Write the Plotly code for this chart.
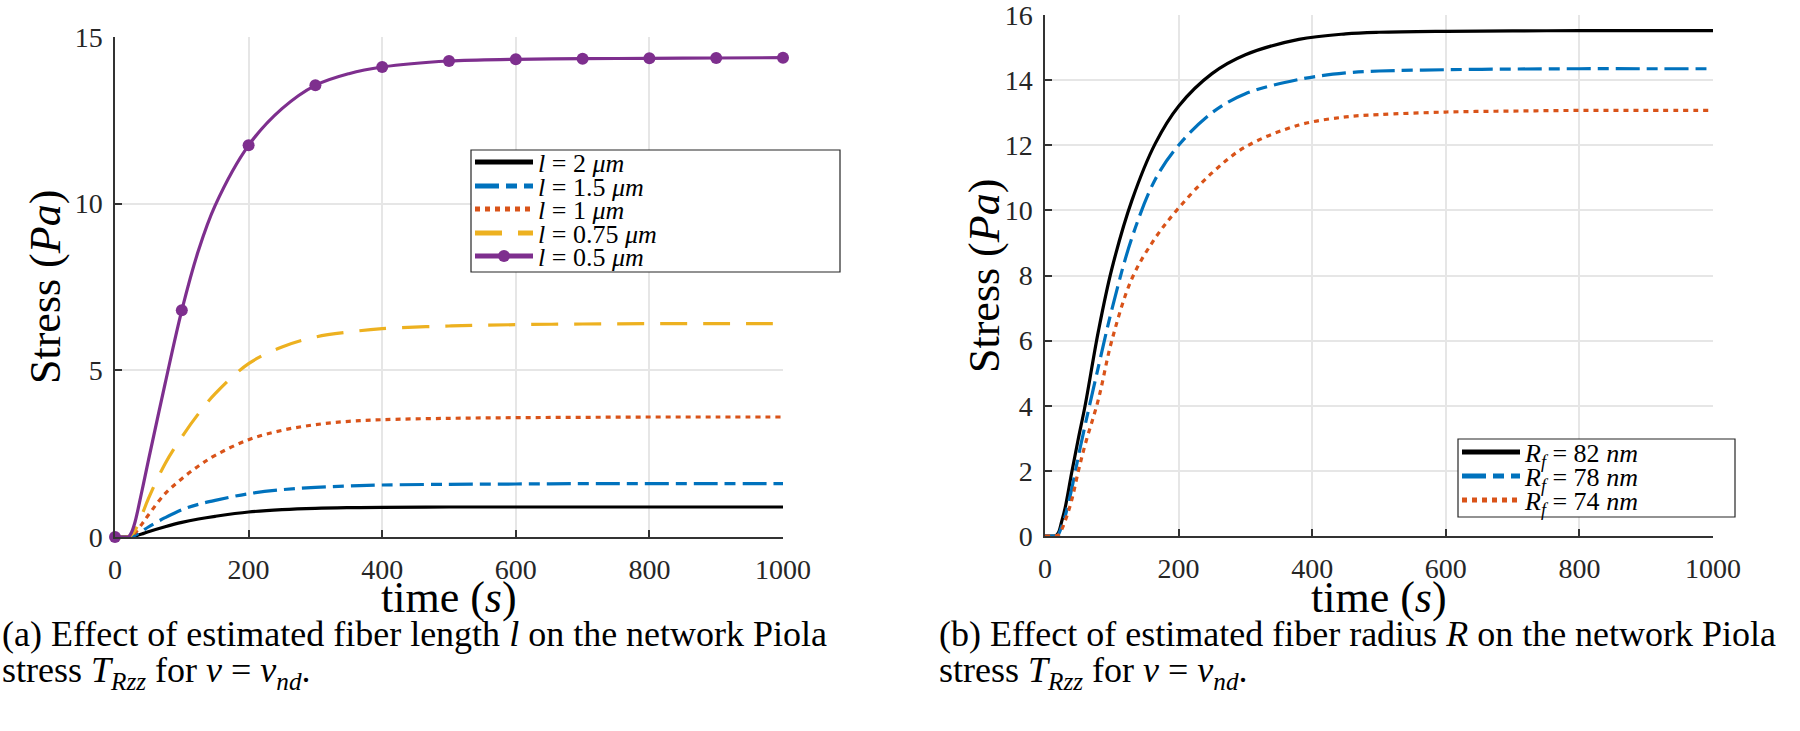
import plotly.graph_objects as go

# ---------------- data ----------------
time_a = [0, 10, 20, 25, 30, 40, 50, 75, 100, 125, 150, 200, 250, 300, 350, 400, 500, 600, 700, 800, 900, 1000]
stress_l2 = [0, 0, 0, 0.01, 0.03, 0.09, 0.16, 0.31, 0.44, 0.54, 0.62, 0.75, 0.82, 0.86, 0.88, 0.89, 0.9, 0.9, 0.9, 0.9, 0.9, 0.9]
stress_l15 = [0, 0, 0, 0.02, 0.05, 0.17, 0.3, 0.58, 0.82, 0.98, 1.1, 1.3, 1.42, 1.49, 1.53, 1.56, 1.58, 1.59, 1.6, 1.6, 1.6, 1.6]
stress_l1 = [0, 0, 0, 0.04, 0.12, 0.38, 0.66, 1.3, 1.75, 2.13, 2.45, 2.92, 3.2, 3.37, 3.47, 3.52, 3.56, 3.58, 3.59, 3.6, 3.6, 3.6]
stress_l075 = [0, 0, 0, 0.07, 0.2, 0.65, 1.15, 2.2, 3.0, 3.7, 4.3, 5.2, 5.7, 6.0, 6.15, 6.25, 6.33, 6.37, 6.39, 6.4, 6.4, 6.4]
stress_l05 = [0, 0, 0, 0.15, 0.45, 1.35, 2.3, 4.6, 6.8, 8.6, 9.95, 11.75, 12.85, 13.55, 13.9, 14.1, 14.28, 14.33, 14.35, 14.36, 14.37, 14.38]
marker_every = 100  # purple curve has a marker every 100 s

time_b = [0, 10, 15, 20, 25, 30, 40, 50, 60, 80, 100, 130, 165, 200, 250, 300, 380, 450, 500, 600, 700, 800, 900, 1000]
stress_r82 = [0, 0, 0, 0.1, 0.45, 0.85, 1.95, 3.0, 4.0, 6.3, 8.2, 10.3, 12.05, 13.2, 14.2, 14.78, 15.25, 15.42, 15.47, 15.5, 15.51, 15.52, 15.52, 15.52]
stress_r78 = [0, 0, 0, 0.05, 0.3, 0.6, 1.45, 2.45, 3.4, 5.2, 6.95, 9.15, 10.95, 12.0, 13.0, 13.58, 14.02, 14.22, 14.28, 14.32, 14.34, 14.35, 14.35, 14.35]
stress_r74 = [0, 0, 0, 0.03, 0.2, 0.45, 1.1, 2.0, 2.8, 4.2, 6.0, 7.9, 9.15, 10.07, 11.15, 11.95, 12.62, 12.87, 12.94, 13.02, 13.05, 13.07, 13.07, 13.07]

labels_a = ["<i>l</i> = 2 <i>μm</i>", "<i>l</i> = 1.5 <i>μm</i>", "<i>l</i> = 1 <i>μm</i>",
            "<i>l</i> = 0.75 <i>μm</i>", "<i>l</i> = 0.5 <i>μm</i>"]
labels_b = ["<i>R</i><sub><i>f</i></sub> = 82 <i>nm</i>", "<i>R</i><sub><i>f</i></sub> = 78 <i>nm</i>",
            "<i>R</i><sub><i>f</i></sub> = 74 <i>nm</i>"]
x_ticks = [0, 200, 400, 600, 800, 1000]
y_ticks_a = [0, 5, 10, 15]
y_ticks_b = [0, 2, 4, 6, 8, 10, 12, 14, 16]

# ---------------- styling ----------------
W, H = 1800, 731
FONT = "Liberation Serif"
BLACK, BLUE, ORANGE, YELLOW, PURPLE = "#000000", "#0072BD", "#D95319", "#EDB120", "#7E2F8E"
LW = 3.2
DASHDOT = "24px,7px,11px,7px"
DOT = "5px,5px"
DASH = "27px,16px"
SMOOTH = 1.0


def px(xp):
    return xp / W


def py(yp):
    return 1 - yp / H


fig = go.Figure()

legend_ids = ["legend", "legend2", "legend3", "legend4", "legend5", "legend6", "legend7", "legend8"]
left_series = [
    (stress_l2, labels_a[0], BLACK, "solid"),
    (stress_l15, labels_a[1], BLUE, DASHDOT),
    (stress_l1, labels_a[2], ORANGE, DOT),
    (stress_l075, labels_a[3], YELLOW, DASH),
]
for i, (ys, name, col, dash) in enumerate(left_series):
    fig.add_trace(go.Scatter(x=time_a, y=ys, name=name, mode="lines", showlegend=True,
                             line=dict(color=col, width=LW, dash=dash, shape="spline", smoothing=SMOOTH),
                             xaxis="x", yaxis="y", legend=legend_ids[i], cliponaxis=False))

msize = [12 if t % marker_every == 0 else 0 for t in time_a]
fig.add_trace(go.Scatter(x=time_a, y=stress_l05, name=labels_a[4], mode="lines+markers", showlegend=True,
                         line=dict(color=PURPLE, width=LW, shape="spline", smoothing=SMOOTH),
                         marker=dict(color=PURPLE, size=msize, opacity=1, line=dict(width=0)),
                         xaxis="x", yaxis="y", legend="legend5", cliponaxis=False))

right_series = [
    (stress_r82, labels_b[0], BLACK, "solid"),
    (stress_r78, labels_b[1], BLUE, DASHDOT),
    (stress_r74, labels_b[2], ORANGE, DOT),
]
for i, (ys, name, col, dash) in enumerate(right_series):
    fig.add_trace(go.Scatter(x=time_b, y=ys, name=name, mode="lines", showlegend=True,
                             line=dict(color=col, width=LW, dash=dash, shape="spline", smoothing=SMOOTH),
                             xaxis="x2", yaxis="y2", legend=legend_ids[5 + i], cliponaxis=False))

axis_common = dict(
    showline=True, linecolor="#333333", linewidth=1.5, mirror=False, automargin=False,
    ticks="inside", ticklen=7, tickwidth=1.5, tickcolor="#333333", ticklabeloverflow="allow",
    showgrid=True, gridcolor="#e6e6e6", gridwidth=1.5, zeroline=False,
    tickfont=dict(family=FONT, size=28, color="#262626"),
)

fig.update_layout(
    width=W, height=H, autosize=False, showlegend=True,
    margin=dict(l=0, r=0, t=0, b=0, pad=0, autoexpand=False),
    paper_bgcolor="white", plot_bgcolor="white",
    xaxis=dict(domain=[px(115), px(783)], range=[0, 1000], tickvals=x_ticks, anchor="y",
               ticklabelstandoff=7, **axis_common),
    yaxis=dict(domain=[py(537), py(37)], range=[0, 15], tickvals=y_ticks_a, anchor="x",
               ticklabelstandoff=5, **axis_common),
    xaxis2=dict(domain=[px(1045), px(1713)], range=[0, 1000], tickvals=x_ticks, anchor="y2",
                ticklabelstandoff=7, **axis_common),
    yaxis2=dict(domain=[py(536), py(15)], range=[0, 16], tickvals=y_ticks_b, anchor="x2",
                ticklabelstandoff=5, **axis_common),
)

# legend boxes
fig.add_shape(type="rect", xref="paper", yref="paper", x0=px(471), x1=px(840), y0=py(272), y1=py(150),
              line=dict(color="#262626", width=1.2), fillcolor="white", layer="above")
fig.add_shape(type="rect", xref="paper", yref="paper", x0=px(1458), x1=px(1735), y0=py(517), y1=py(439),
              line=dict(color="#262626", width=1.2), fillcolor="white", layer="above")

leg_common = dict(bgcolor="rgba(0,0,0,0)", borderwidth=0, itemwidth=58, itemsizing="constant",
                  font=dict(family=FONT, size=26, color="#000000"), xanchor="left", yanchor="middle")
rows_a = [164, 188, 211, 235, 258]
rows_b = [454, 478, 502]
SHIFT = -2
layout_leg = {}
for i, yc in enumerate(rows_a):
    layout_leg[legend_ids[i]] = dict(x=px(470), y=py(yc + SHIFT), **leg_common)
for i, yc in enumerate(rows_b):
    layout_leg[legend_ids[5 + i]] = dict(x=px(1457), y=py(yc + SHIFT), **leg_common)
fig.update_layout(**layout_leg)

ann = []
for xc in (449, 1379):
    ann.append(dict(text="time (<i>s</i>)", x=px(xc), y=py(597), xref="paper", yref="paper",
                    xanchor="center", yanchor="middle", showarrow=False,
                    font=dict(family=FONT, size=44, color="#000000")))
ann.append(dict(text="Stress (<i>Pa</i>)", x=px(46), y=py(287), xref="paper", yref="paper",
                xanchor="center", yanchor="middle", showarrow=False, textangle=-90,
                font=dict(family=FONT, size=44, color="#000000")))
ann.append(dict(text="Stress (<i>Pa</i>)", x=px(985), y=py(276), xref="paper", yref="paper",
                xanchor="center", yanchor="middle", showarrow=False, textangle=-90,
                font=dict(family=FONT, size=44, color="#000000")))
cap_a = "(a) Effect of estimated fiber length <i>l</i> on the network Piola"
cap_b = "(b) Effect of estimated fiber radius <i>R</i> on the network Piola"
cap2 = "stress <i>T</i><sub><i>Rzz</i></sub> for <i>ν</i> = <i>ν</i><sub><i>nd</i></sub>."
CAP_SIZE = 36
for xl, c1 in ((0, cap_a), (937, cap_b)):
    ann.append(dict(text=c1, x=px(xl), y=py(634), xref="paper", yref="paper", xanchor="left",
                    yanchor="middle", showarrow=False, font=dict(family=FONT, size=CAP_SIZE, color="#000000")))
    ann.append(dict(text=cap2, x=px(xl), y=py(672), xref="paper", yref="paper", xanchor="left",
                    yanchor="middle", showarrow=False, font=dict(family=FONT, size=CAP_SIZE, color="#000000")))
fig.update_layout(annotations=ann)

# remove the browser's default 8px page margin so the figure sits at the window origin
fig.write_html("out.html", config={"displayModeBar": False},
               post_script="document.body.style.margin='0px';")
